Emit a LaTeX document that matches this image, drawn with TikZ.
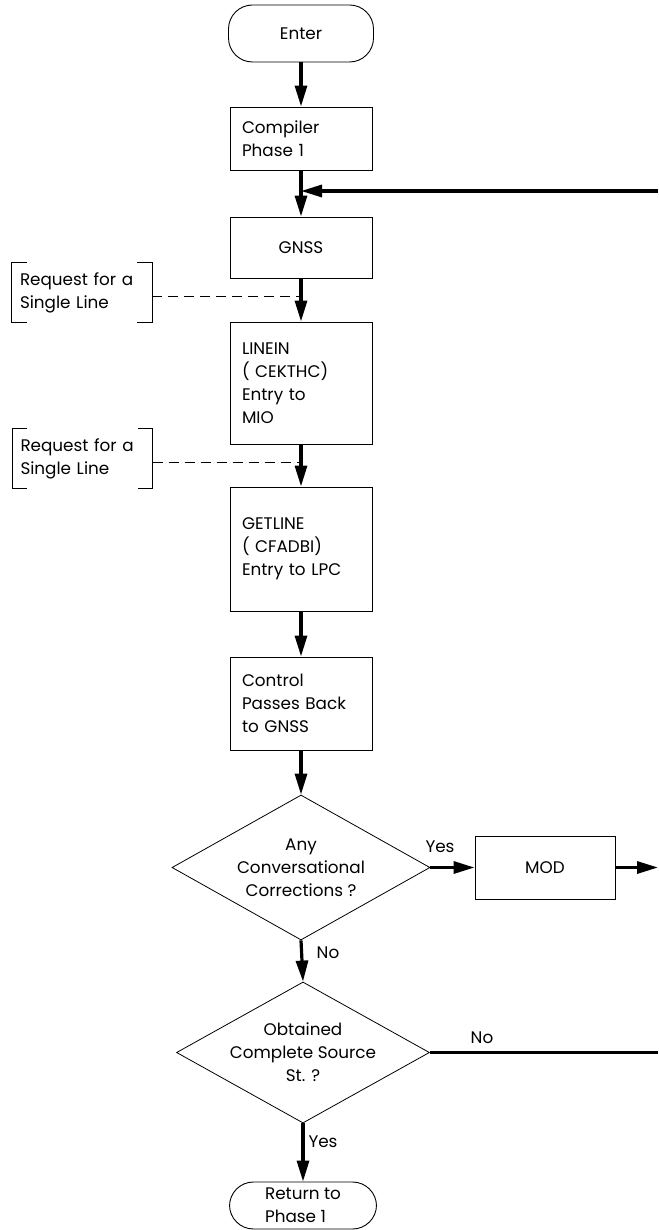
\documentclass[tikz,border=0pt]{standalone}
\usepackage{fontspec}
\setmainfont{Poppins}
\usetikzlibrary{arrows.meta,shapes.geometric}
\begin{document}
\begin{tikzpicture}[x=1pt,y=-1pt,
  every node/.style={font=\fontsize{16.8}{23}\selectfont},
  box/.style={draw, line width=0.9pt, minimum width=142pt, inner sep=0pt, text width=118pt, align=left},
  term/.style={draw, line width=0.9pt, rounded corners=24pt, minimum width=145pt, minimum height=57pt, inner sep=0pt},
  dec/.style={draw, diamond, aspect=1.78, line width=0.8pt, inner sep=0pt, align=center},
  flow/.style={line width=3.2pt, -{Triangle[length=21pt,width=12pt]}},
  plainflow/.style={line width=3.2pt},
  note/.style={minimum width=140pt, minimum height=59pt, inner sep=0pt, text width=124pt, align=left},
  bracket/.style={line width=0.8pt},
  dashline/.style={line width=0.9pt, dash pattern=on 10pt off 6pt},
  lbl/.style={inner sep=0pt}
]
\useasboundingbox (0,0) rectangle (658,1230);

% nodes
\node[term] (enter) at (301,33.5) {Enter};
\node[box, minimum height=63pt] (comp) at (301,138.5) {Compiler\\Phase 1};
\node[box, minimum height=61pt, align=center] (gnss) at (301,247.5) {GNSS};
\node[box, minimum height=122pt] (linein) at (301,383) {LINEIN\\( CEKTHC)\\Entry to\\MIO};
\node[box, minimum height=124pt] (getline) at (301,549) {GETLINE\\( CFADBI)\\Entry to LPC};
\node[box, minimum height=93pt] (ctrl) at (301,703.5) {Control\\Passes Back\\to GNSS};
\node[dec, minimum width=258pt, minimum height=145pt] (d1) at (301,867.5) {Any\\Conversational\\Corrections ?};
\node[box, minimum width=140pt, minimum height=63pt, text width=140pt, align=center] (mod) at (545,867.5) {MOD};
\node[dec, minimum width=253pt, minimum height=141pt] (d2) at (303,1052.5) {Obtained\\Complete Source\\St. ?};
\node[term, minimum width=147pt, minimum height=47pt, align=left] (ret) at (303,1205.5) {Return to\\Phase 1};

% annotations
\node[note] (n1) at (82,292.5) {Request for a\\Single Line};
\node[note] (n2) at (82.5,458.5) {Request for a\\Single Line};
\foreach \n in {n1,n2}{
  \draw[bracket] ([xshift=15pt]\n.north west) -- (\n.north west) -- (\n.south west) -- ([xshift=15pt]\n.south west);
  \draw[bracket] ([xshift=-15pt]\n.north east) -- (\n.north east) -- (\n.south east) -- ([xshift=-15pt]\n.south east);
}

% coordinates
\coordinate (m) at (301,191);
\coordinate (rt) at (658,191);
\coordinate (c1) at (301,296);
\coordinate (c2) at (301,462);
\coordinate (e1) at (658,867.5);
\coordinate (e2) at (658,1052.5);

% connectors
\draw[flow] (enter.south) -- (comp.north);
\draw[flow] (comp.south) -- (gnss.north);
\draw[flow] (rt) -- (m);
\draw[flow] (gnss.south) -- (linein.north);
\draw[flow] (linein.south) -- (getline.north);
\draw[flow] (getline.south) -- (ctrl.north);
\draw[flow] (ctrl.south) -- (d1.north);
\draw[flow] (d1.east) -- (mod.west);
\draw[flow] (mod.east) -- (e1);
\draw[flow] (d1.south) -- (d2.north);
\draw[plainflow] (d2.east) -- (e2);
\draw[flow] (d2.south) -- (ret.north);
\draw[dashline] (n1.east |- c1) -- (c1);
\draw[dashline] (n2.east |- c2) -- (c2);

% labels
\node[lbl] (y1) at (440,847) {Yes};
\node[lbl] (no1) at (328,953) {No};
\node[lbl] (no2) at (482,1038) {No};
\node[lbl] (y2) at (323,1142) {Yes};
\end{tikzpicture}
\end{document}
